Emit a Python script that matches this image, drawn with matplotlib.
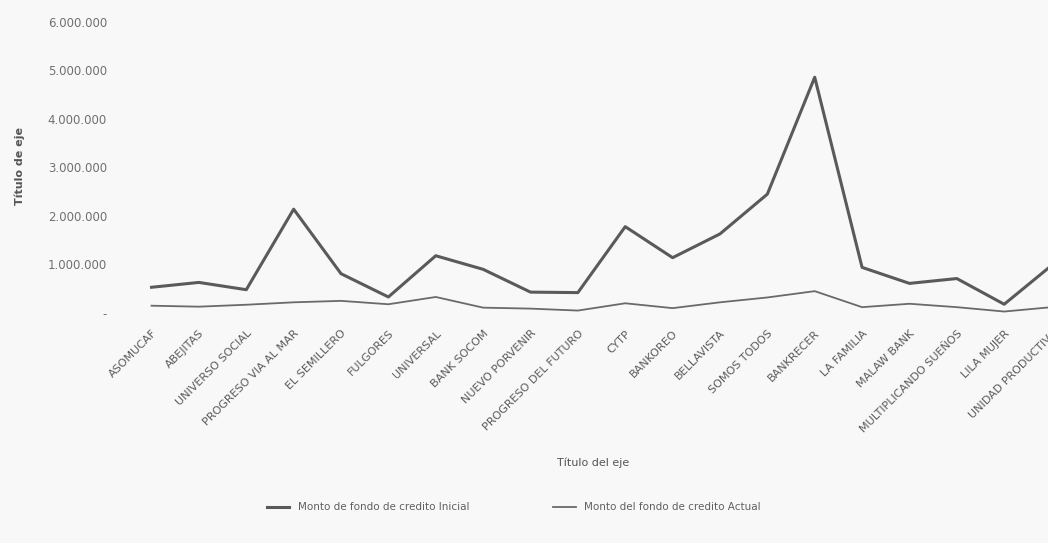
import matplotlib
matplotlib.use('Agg')
import matplotlib.pyplot as plt
from matplotlib.ticker import FuncFormatter


# data (values in pesos)
categories = ['ASOMUCAF', 'ABEJITAS', 'UNIVERSO SOCIAL', 'PROGRESO VIA AL MAR',
              'EL SEMILLERO', 'FULGORES', 'UNIVERSAL', 'BANK SOCOM',
              'NUEVO PORVENIR', 'PROGRESO DEL FUTURO', 'CYTP', 'BANKOREO',
              'BELLAVISTA', 'SOMOS TODOS', 'BANKRECER', 'LA FAMILIA',
              'MALAW BANK', 'MULTIPLICANDO SUEÑOS', 'LILA MUJER',
              'UNIDAD PRODUCTIVA']

monto_inicial = [530000, 630000, 480000, 2140000, 810000, 330000, 1180000,
                 900000, 430000, 420000, 1780000, 1140000, 1630000, 2450000,
                 4860000, 940000, 610000, 710000, 180000, 980000]

monto_actual = [150000, 130000, 170000, 220000, 250000, 180000, 330000,
                110000, 90000, 50000, 200000, 100000, 220000, 320000,
                450000, 120000, 190000, 120000, 30000, 120000]

y_ticks = [0, 1000000, 2000000, 3000000, 4000000, 5000000, 6000000]


def miles(value, pos):
    """Excel style thousands with dots, zero shown as a dash"""
    if value == 0:
        return '-'
    return '{:,.0f}'.format(value).replace(',', '.')


def plot_data():
    """Draw the line chart."""

    fig = plt.figure(figsize=[10.48, 5.43], dpi=100)
    fig.patch.set_facecolor('#f8f8f8')

    ax = fig.add_axes([0.122, 0.4236, 0.904, 0.536])
    ax.set_facecolor('#f8f8f8')

    x = list(range(len(categories)))
    ax.plot(x, monto_inicial, color='#5a5a5a', lw=2.2,
            label='Monto de fondo de credito Inicial')
    ax.plot(x, monto_actual, color='#6a6a6a', lw=1.3,
            label='Monto del fondo de credito Actual')

    ax.set_xlim(-0.5, len(categories) - 0.5)
    ax.set_ylim(0, 6000000)
    ax.set_yticks(y_ticks)
    ax.yaxis.set_major_formatter(FuncFormatter(miles))
    ax.set_xticks(x)
    ax.set_xticklabels(categories, rotation=45, ha='right',
                       rotation_mode='anchor')

    for side in ax.spines:
        ax.spines[side].set_visible(False)
    ax.tick_params(axis='both', length=0, colors='#707070')
    ax.tick_params(axis='x', pad=11, labelsize=8, colors='#5a5a5a')
    ax.tick_params(axis='y', pad=15, labelsize=8.5)

    fig.text(0.019, 0.695, 'Título de eje', rotation=90, ha='center',
             va='center', fontsize=8, fontweight='bold', color='#555555')
    fig.text(0.566, 0.147, 'Título del eje', ha='center', va='center',
             fontsize=8, color='#555555')

    fig.legend(loc='center', bbox_to_anchor=(0.49, 0.066), ncol=2,
               frameon=False, fontsize=7.5, handlelength=2.2,
               columnspacing=8, labelcolor='#606060')

    return fig


def main():
    fig = plot_data()
    fig.savefig('out.png', dpi=100, facecolor=fig.get_facecolor())


if __name__ == '__main__':
    main()
